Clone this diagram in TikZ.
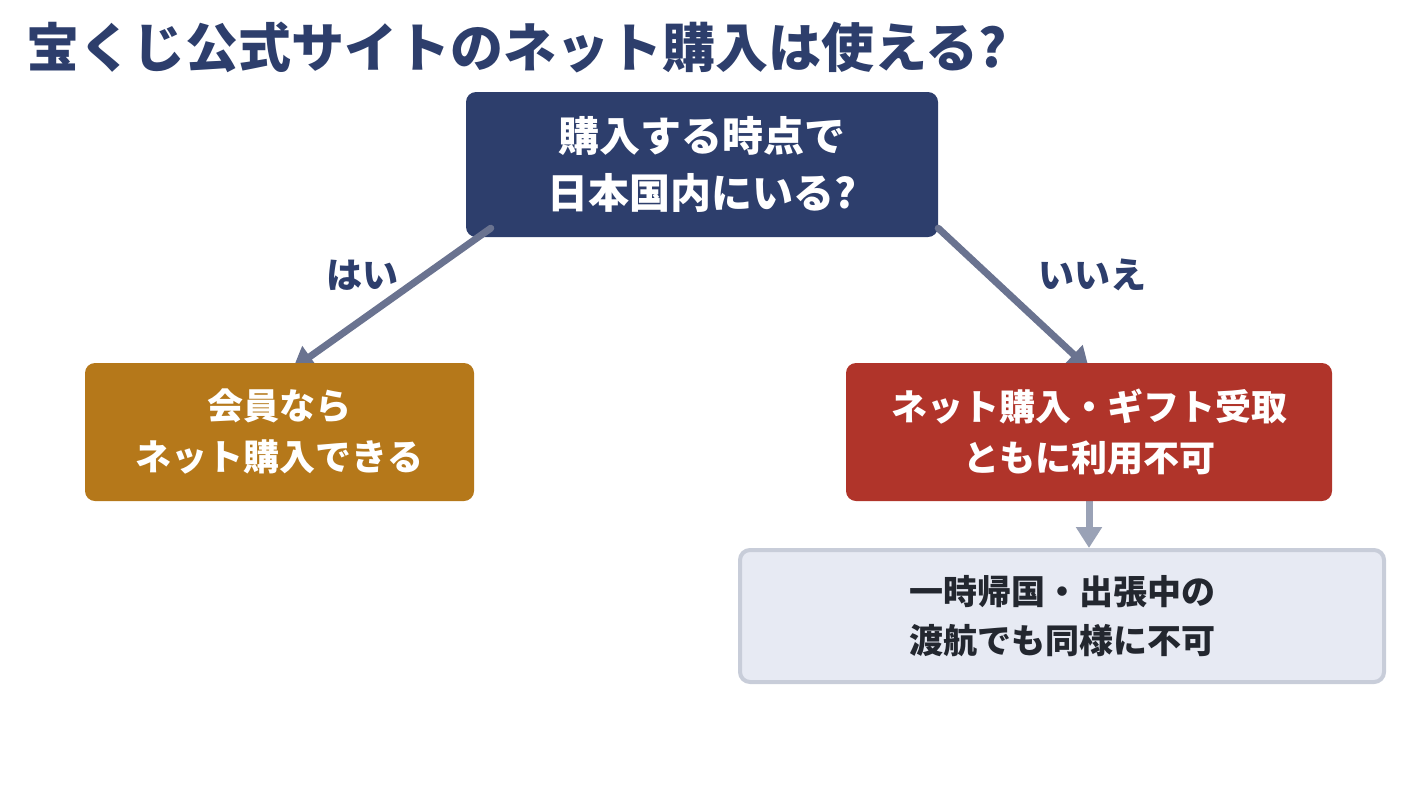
\documentclass[tikz,border=0pt]{standalone}
\usepackage{fontspec}
\setmainfont{Noto Sans CJK JP}
\usetikzlibrary{arrows.meta,calc}
\pgfdeclarelayer{back}
\pgfdeclarelayer{mid}
\pgfsetlayers{back,mid,main}

\definecolor{navy}{HTML}{2D3E6C}
\definecolor{gold}{HTML}{B5781A}
\definecolor{brick}{HTML}{B0342A}
\definecolor{mist}{HTML}{E7EAF3}
\definecolor{mistline}{HTML}{C8CDD9}
\definecolor{slate}{HTML}{6A7390}
\definecolor{slatelight}{HTML}{9AA2B6}
\definecolor{ink}{HTML}{23272F}
\newcommand{\fsz}[2]{\fontsize{#1}{#2}\selectfont}

\tikzset{
	box/.style={rounded corners=10pt, inner sep=0pt, align=center, text=white},
	flow/.style={line width=7pt, color=slate, -{Triangle[width=25pt,length=21pt]}},
	answer/.style={text=navy, font=\fsz{36}{40}\bfseries},
}

\begin{document}
\begin{tikzpicture}[x=1pt, y=-1pt]
		%%%%% START %%%%%
		\useasboundingbox (0, 0) rectangle (1404, 798);
		
		\node[anchor=west, text=navy, font=\fsz{53}{60}\bfseries, inner sep=0pt] (title) at (26, 47) {宝くじ公式サイトのネット購入は使える?};
		
		\begin{pgfonlayer}{back}
		\node[box, fill=navy, minimum width=472pt, minimum height=145pt, font=\fsz{41}{57}\bfseries] (q) at (702, 164.5) {購入する時点で\\日本国内にいる?};
		\end{pgfonlayer}
		
		\node[box, fill=gold, minimum width=389pt, minimum height=138pt, font=\fsz{36}{51}\bfseries] (yes) at (279.5, 432) {会員なら\\ネット購入できる};
		\node[box, fill=brick, minimum width=486pt, minimum height=138pt, font=\fsz{36}{51}\bfseries] (no) at (1089, 432) {ネット購入・ギフト受取\\ともに利用不可};
		\node[box, fill=mist, draw=mistline, line width=4pt, text=ink, minimum width=644pt, minimum height=132pt, font=\fsz{34}{49}\bfseries] (note) at (1062, 616) {一時帰国・出張中の\\渡航でも同様に不可};
		
		\begin{pgfonlayer}{mid}
		\draw[flow, line cap=round] ($(q.south west)+(25,-9)$) -- ($(yes.north west)+(208,6)$);
		\draw[flow, line cap=round] ($(q.south east)+(0,-9)$) -- ($(no.north)+(0,6)$);
		\draw[flow, color=slatelight] ($(no.south)+(0,-3)$) -- (no.south |- note.north);
		\end{pgfonlayer}
		
		\node[answer] (yeslbl) at (362, 275) {はい};
		\node[answer] (nolbl) at (1092, 275) {いいえ};
		%%%%% END %%%%%
	\end{tikzpicture}
\end{document}
